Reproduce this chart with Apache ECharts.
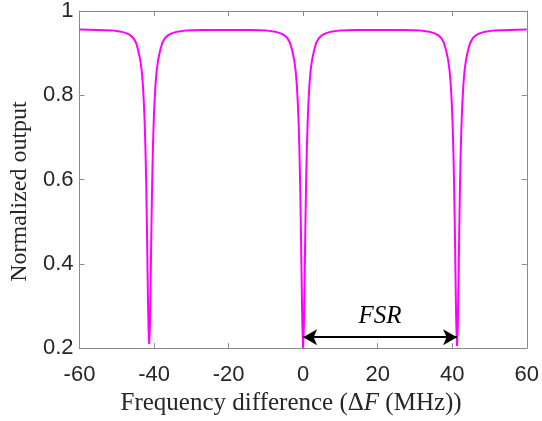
<!DOCTYPE html>
<html>
<head>
<meta charset="utf-8">
<script src="https://cdn.jsdelivr.net/npm/echarts@6/dist/echarts.min.js"></script>
<style>
  html, body { margin: 0; padding: 0; background: #fff; }
  #main { width: 542px; height: 421px; }
</style>
</head>
<body>
<div id="main"></div>
<script>
// values (MHz, normalized output)
var freqMHz = [
  -60,
  -55.3, -51.3, -48.8, -47.3, -46.3, -45.55, -44.8, -44.2, -43.7, -43.3, -43.0, -42.7, -42.5, -42.3, -42.1, -41.9, -41.8, -41.7, -41.6, -41.5, -41.3,
  -41.1, -41.0, -40.9, -40.8, -40.7, -40.5, -40.3, -40.1, -39.9, -39.6, -39.3, -38.9, -38.4, -37.8, -37.05, -36.3, -35.3, -33.8, -31.3, -27.3,
  -20.65,
  -14, -10, -7.5, -6, -5, -4.25, -3.5, -2.9, -2.4, -2.0, -1.7, -1.4, -1.2, -1.0, -0.8, -0.6, -0.5, -0.4, -0.3, -0.2, 0,
  0.2, 0.3, 0.4, 0.5, 0.6, 0.8, 1.0, 1.2, 1.4, 1.7, 2.0, 2.4, 2.9, 3.5, 4.25, 5, 6, 7.5, 10, 14,
  20.65,
  27.3, 31.3, 33.8, 35.3, 36.3, 37.05, 37.8, 38.4, 38.9, 39.3, 39.6, 39.9, 40.1, 40.3, 40.5, 40.7, 40.8, 40.9, 41.0, 41.1, 41.3,
  41.5, 41.6, 41.7, 41.8, 41.9, 42.1, 42.3, 42.5, 42.7, 43.0, 43.3, 43.7, 44.2, 44.8, 45.55, 46.3, 47.3, 48.8, 51.3, 55.3,
  60
];
var output = [
  0.956,
  0.955, 0.954, 0.951, 0.947, 0.942, 0.936, 0.924, 0.905, 0.884, 0.858, 0.826, 0.778, 0.733, 0.673, 0.592, 0.486, 0.424, 0.363, 0.303, 0.253, 0.21,
  0.253, 0.303, 0.363, 0.424, 0.486, 0.592, 0.673, 0.733, 0.778, 0.826, 0.858, 0.884, 0.905, 0.924, 0.936, 0.942, 0.947, 0.951, 0.954, 0.955,
  0.955,
  0.955, 0.954, 0.951, 0.947, 0.942, 0.936, 0.924, 0.905, 0.884, 0.858, 0.826, 0.778, 0.733, 0.673, 0.592, 0.486, 0.424, 0.363, 0.303, 0.253, 0.2,
  0.253, 0.303, 0.363, 0.424, 0.486, 0.592, 0.673, 0.733, 0.778, 0.826, 0.858, 0.884, 0.905, 0.924, 0.936, 0.942, 0.947, 0.951, 0.954, 0.955,
  0.955,
  0.955, 0.954, 0.951, 0.947, 0.942, 0.936, 0.924, 0.905, 0.884, 0.858, 0.826, 0.778, 0.733, 0.673, 0.592, 0.486, 0.424, 0.363, 0.303, 0.253, 0.205,
  0.253, 0.303, 0.363, 0.424, 0.486, 0.592, 0.673, 0.733, 0.778, 0.826, 0.858, 0.884, 0.905, 0.924, 0.936, 0.942, 0.947, 0.951, 0.954, 0.955,
  0.956
];
var fsrStart = [0, 0.226];
var fsrEnd = [41.3, 0.226];

var curve = [];
for (var i = 0; i < freqMHz.length; i++) {
    curve.push([freqMHz[i], output[i]]);
}

var chart = echarts.init(document.getElementById('main'));

var axisGray = '#8a8a8a';
var tickText = '#262626';

function boxAxis(pos) {
    return {
        position: pos,
        axisLine: { show: true, onZero: false, lineStyle: { color: axisGray, width: 1 } },
        axisTick: { inside: true, length: 5, lineStyle: { color: axisGray } },
        axisLabel: { show: false },
        splitLine: { show: false }
    };
}

var xTop = boxAxis('top');
xTop.type = 'value'; xTop.min = -60; xTop.max = 60; xTop.interval = 20;
var yRight = boxAxis('right');
yRight.type = 'value'; yRight.min = 0.2; yRight.max = 1; yRight.interval = 0.2;

option = {
    animation: false,
    grid: { left: 79, right: 11, top: 9, bottom: 70 },
    xAxis: [
        {
            type: 'value', min: -60, max: 60, interval: 20, position: 'bottom',
            name: 'Frequency difference (Δ{i|F} (MHz))',
            nameLocation: 'middle', nameGap: 38,
            nameTextStyle: {
                fontFamily: 'Liberation Serif', fontSize: 25, color: tickText,
                padding: [0, 24, 0, 0],
                rich: { i: { fontFamily: 'Liberation Serif', fontStyle: 'italic', fontSize: 25, color: tickText } }
            },
            axisLine: { show: true, onZero: false, lineStyle: { color: axisGray, width: 1 } },
            axisTick: { inside: true, length: 5, lineStyle: { color: axisGray } },
            axisLabel: { fontFamily: 'Liberation Sans', fontSize: 22, color: tickText, margin: 16 },
            splitLine: { show: false }
        },
        xTop
    ],
    yAxis: [
        {
            type: 'value', min: 0.2, max: 1, interval: 0.2, position: 'left',
            name: 'Normalized output',
            nameLocation: 'middle', nameGap: 46,
            nameTextStyle: {
                fontFamily: 'Liberation Serif', fontSize: 24, color: tickText,
                padding: [0, 24, 0, 0]
            },
            axisLine: { show: true, onZero: false, lineStyle: { color: axisGray, width: 1 } },
            axisTick: { inside: true, length: 5, lineStyle: { color: axisGray } },
            axisLabel: {
                fontFamily: 'Liberation Sans', fontSize: 22, color: tickText, margin: 6,
                formatter: function (v) { return Math.round(v * 10) / 10 + ''; }
            },
            splitLine: { show: false }
        },
        yRight
    ],
    series: [
        {
            type: 'line',
            data: curve,
            showSymbol: false,
            lineStyle: { color: '#ff00ff', width: 2 },
            clip: true,
            markLine: {
                silent: true,
                symbol: ['arrow', 'arrow'],
                symbolSize: [12, 14],
                lineStyle: { color: '#000', width: 2, type: 'solid' },
                label: {
                    show: true, position: 'middle', formatter: 'FSR', distance: 8,
                    fontFamily: 'Liberation Serif', fontStyle: 'italic', fontSize: 25, color: '#000'
                },
                data: [[{ coord: fsrStart }, { coord: fsrEnd }]]
            }
        }
    ]
};
chart.setOption(option);
</script>
</body>
</html>
